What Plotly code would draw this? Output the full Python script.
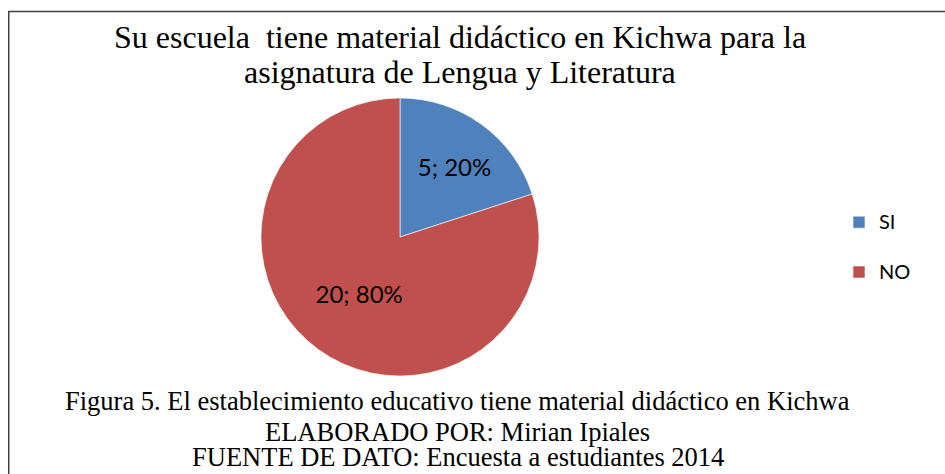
import plotly.graph_objects as go

labels = ["SI", "NO"]
values = [5, 20]
colors = ["#4F81BD", "#C0504D"]
title_lines = ["Su escuela\u00a0 tiene material didáctico en Kichwa para la",
               "asignatura de Lengua y Literatura"]
caption_lines = ["Figura 5. El establecimiento educativo tiene material didáctico en Kichwa",
                 "ELABORADO POR: Mirian Ipiales",
                 "FUENTE DE DATO: Encuesta a estudiantes 2014"]

# the page's body margin is removed below, so the figure fills the window exactly
W, H = 945, 474

def px(x):
    return x / W

def py(y):
    return (H - y) / H

base_tpl = "%{value}; %{percent:.0%}"
text_tpls = ["\u00a0" + base_tpl, base_tpl]

fig = go.Figure()
fig.add_trace(go.Pie(
    labels=["<span style='font-size:20px'>" + l + "</span><br>\u00a0" for l in labels],
    values=values, customdata=labels,
    sort=False, direction="clockwise", rotation=0,
    marker=dict(colors=colors, line=dict(color="#FFFFFF", width=0.6)),
    texttemplate=text_tpls, textposition="inside",
    insidetextorientation="horizontal",
    textfont=dict(family="Lato", size=24, color="#000000"),
    hovertemplate="%{customdata}: %{value} (%{percent})<extra></extra>",
    domain=dict(x=[px(261), px(539)], y=[py(376), py(98)]),
))

fig.update_layout(
    width=W, height=H, margin=dict(l=0, r=0, t=0, b=0),
    paper_bgcolor="white", plot_bgcolor="white",
    showlegend=True,
    legend=dict(x=px(839), y=py(204), xanchor="left", yanchor="top",
                valign="top",
                font=dict(family="Lato", size=18, color="#000000"),
                itemwidth=30, tracegroupgap=0),
    shapes=[dict(type="path", xref="paper", yref="paper", xsizemode="pixel",
                 ysizemode="pixel", xanchor=0, yanchor=1,
                 path="M 8.75,{b} L 8.75,-11.5 L {r},-11.5".format(b=-(H + 20), r=W + 20),
                 line=dict(color="#404040", width=1.5))],
)

for line, yc in zip(title_lines, [37, 71.5]):
    fig.add_annotation(text=line, x=px(459.5), y=py(yc),
                       xref="paper", yref="paper", xanchor="center", yanchor="middle",
                       showarrow=False, align="center",
                       font=dict(family="Liberation Serif", size=32, color="#000000"))
for line, yc in zip(caption_lines, [400.5, 431.5, 457]):
    fig.add_annotation(text=line, x=px(457.5), y=py(yc),
                       xref="paper", yref="paper", xanchor="center", yanchor="middle",
                       showarrow=False, align="center",
                       font=dict(family="Liberation Serif", size=26.5, color="#000000"))

fig.write_html("out.html", config={"displayModeBar": False},
               post_script="document.body.style.margin='0';document.body.style.overflow='hidden';")
